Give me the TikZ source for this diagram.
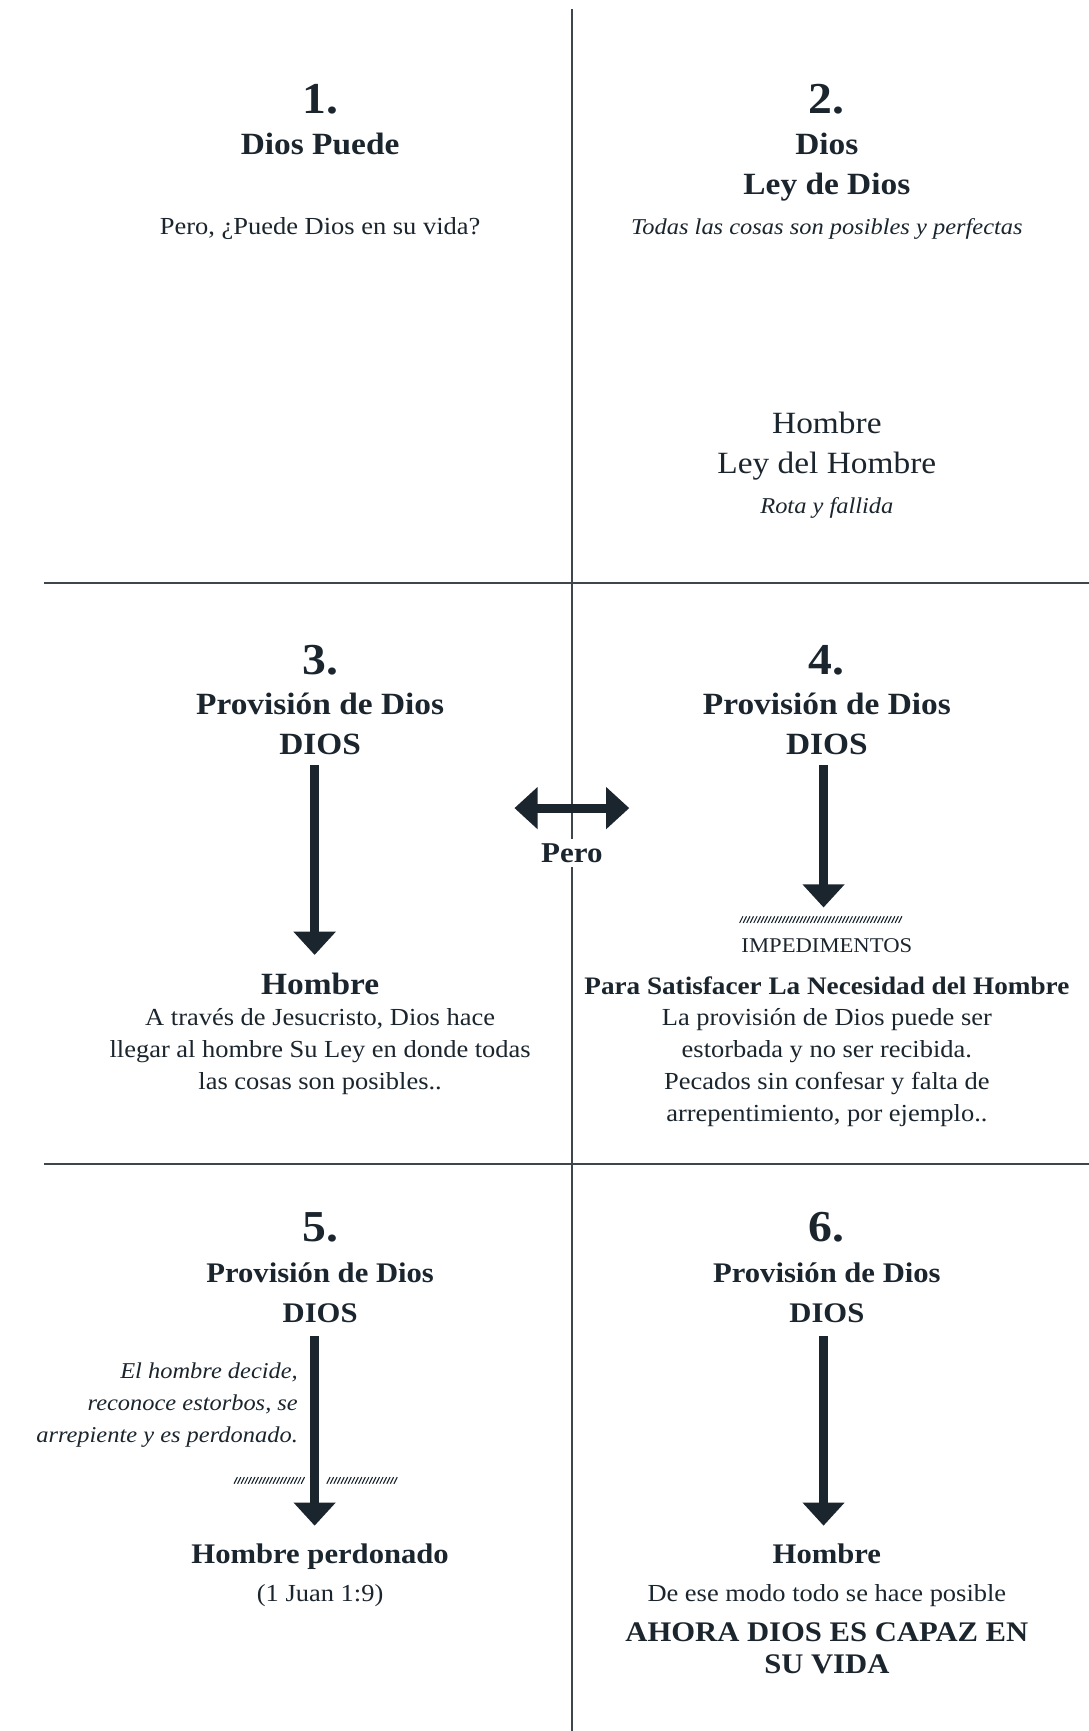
\documentclass[tikz,border=0pt]{standalone}
\usepackage{fontspec}
\setmainfont[FakeStretch=1.08]{Liberation Serif}
\usetikzlibrary{arrows.meta}
\definecolor{ink}{HTML}{1B252E}
\begin{document}
\begin{tikzpicture}[x=1pt,y=-1pt,
 every node/.style={text=ink, inner sep=0pt},
 num/.style={font=\bfseries\fontsize{40}{44}\selectfont, anchor=base},
 head/.style={font=\bfseries\fontsize{28}{32}\selectfont, anchor=base},
 headb/.style={font=\bfseries\fontsize{25.7}{30}\selectfont, anchor=base},
 sub/.style={font=\fontsize{28}{32}\selectfont, anchor=base},
 body/.style={font=\fontsize{22.2}{26}\selectfont, anchor=base},
 small/.style={font=\fontsize{19}{22}\selectfont, anchor=base},
 ital/.style={font=\itshape\fontsize{20.5}{25}\selectfont, anchor=base},
 rule/.style={draw=ink!85, line width=1.8pt},
 bigarrow/.style={draw=ink, line width=8pt, -{Triangle[width=37pt,length=21pt]}},
 dblarrow/.style={draw=ink, line width=8pt, {Triangle[width=37pt,length=21pt]}-{Triangle[width=37pt,length=21pt]}},
 hatch/.style={draw=ink, line width=1pt},
]
\useasboundingbox (0,0) rectangle (986,1568);
% grid
\coordinate (vt) at (518,8);
\coordinate (vb) at (518,1568);
\coordinate (h1l) at (40,528);
\coordinate (h1r) at (986,528);
\coordinate (h2l) at (40,1054);
\coordinate (h2r) at (986,1054);
\draw[rule] (vt) -- (vb);
\draw[rule] (h1l) -- (h1r);
\draw[rule] (h2l) -- (h2r);

% Panel 1
\node[num] (n1) at (290,103) {1.};
\node[head] (p1a) at (290,140) {Dios Puede};
\node[body] (p1b) at (290,212) {Pero, ¿Puede Dios en su vida?};

% Panel 2
\node[num] (n2) at (749,103) {2.};
\node[head] (p2a) at (749,140) {Dios};
\node[head] (p2b) at (749,176) {Ley de Dios};
\node[ital] (p2c) at (749,212) {Todas las cosas son posibles y perfectas};
\node[sub] (p2d) at (749,393) {Hombre};
\node[sub] (p2e) at (749,429) {Ley del Hombre};
\node[ital] (p2f) at (749,465) {Rota y fallida};

% Panel 3
\node[num] (n3) at (290,611) {3.};
\node[head] (p3a) at (290,647) {Provisión de Dios};
\node[head] (p3b) at (290,683) {DIOS};
\coordinate (a3s) at (285,693);
\coordinate (a3e) at (285,865);
\draw[bigarrow] (a3s) -- (a3e);
\node[head] (p3c) at (290,901) {Hombre};
\node[body] (p3d) at (290,929) {A través de Jesucristo, Dios hace};
\node[body] (p3e) at (290,958) {llegar al hombre Su Ley en donde todas};
\node[body] (p3f) at (290,987) {las cosas son posibles..};

% Pero double arrow
\coordinate (dl) at (466,732);
\coordinate (dr) at (570,732);
\draw[dblarrow] (dl) -- (dr);
\node[font=\bfseries\fontsize{26}{30}\selectfont, fill=white, inner sep=4pt, anchor=center] (pero) at (518,773) {Pero};

% Panel 4
\node[num] (n4) at (749,611) {4.};
\node[head] (p4a) at (749,647) {Provisión de Dios};
\node[head] (p4b) at (749,683) {DIOS};
\coordinate (a4s) at (746,693);
\coordinate (a4e) at (746,822);
\draw[bigarrow] (a4s) -- (a4e);
\foreach \i in {0,...,45} \draw[hatch] (670+\i*3.2,836) -- ++(3,-6);
\node[small] (p4c) at (749,863) {IMPEDIMENTOS};
\node[font=\bfseries\fontsize{22.8}{26}\selectfont, anchor=base] (p4d) at (749,901) {Para Satisfacer La Necesidad del Hombre};
\node[body] (p4e) at (749,929) {La provisión de Dios puede ser};
\node[body] (p4f) at (749,958) {estorbada y no ser recibida.};
\node[body] (p4g) at (749,987) {Pecados sin confesar y falta de};
\node[body] (p4h) at (749,1016) {arrepentimiento, por ejemplo..};

% Panel 5
\node[num] (n5) at (290,1125) {5.};
\node[headb] (p5a) at (290,1162) {Provisión de Dios};
\node[headb] (p5b) at (290,1198) {DIOS};
\coordinate (a5s) at (285,1210);
\coordinate (a5e) at (285,1382);
\draw[bigarrow] (a5s) -- (a5e);
\node[ital, anchor=base east] (p5c) at (270,1249) {El hombre decide,};
\node[ital, anchor=base east] (p5d) at (270,1278) {reconoce estorbos, se};
\node[ital, anchor=base east] (p5e) at (270,1307) {arrepiente y es perdonado.};
\foreach \i in {0,...,19} \draw[hatch] (212+\i*3.2,1344) -- ++(3,-6);
\foreach \i in {0,...,19} \draw[hatch] (296+\i*3.2,1344) -- ++(3,-6);
\node[headb] (p5f) at (290,1416) {Hombre perdonado};
\node[body] (p5g) at (290,1451) {(1 Juan 1:9)};

% Panel 6
\node[num] (n6) at (749,1125) {6.};
\node[headb] (p6a) at (749,1162) {Provisión de Dios};
\node[headb] (p6b) at (749,1198) {DIOS};
\coordinate (a6s) at (746,1210);
\coordinate (a6e) at (746,1382);
\draw[bigarrow] (a6s) -- (a6e);
\node[headb] (p6c) at (749,1416) {Hombre};
\node[body] (p6d) at (749,1451) {De ese modo todo se hace posible};
\node[headb] (p6e) at (749,1487) {AHORA DIOS ES CAPAZ EN};
\node[headb] (p6f) at (749,1516) {SU VIDA};
\end{tikzpicture}
\end{document}
